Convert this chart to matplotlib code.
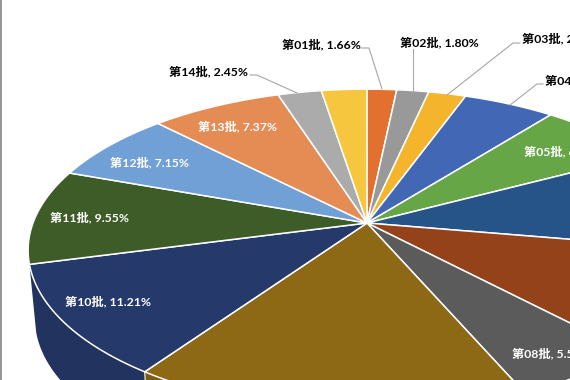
import numpy as np
import matplotlib
matplotlib.use('Agg')
from matplotlib import pyplot as plt

batches = ['第01批', '第02批', '第03批', '第04批', '第05批', '第06批', '第07批', '第08批',
           '第09批', '第10批', '第11批', '第12批', '第13批', '第14批', '第15批']
shares = [1.66, 1.80, 2.10, 5.14, 6.60, 10.40, 10.20, 5.57,
          16.25, 11.21, 9.55, 7.15, 7.37, 2.45, 2.55]
colors = ['#E2702F', '#999999', '#F4B42B', '#4268B5', '#66A647', '#265488', '#934219', '#5B5B5B',
          '#8D6815', '#253A6B', '#3E5C27', '#70A0D5', '#E58C55', '#ABABAB', '#F7C63F']

plt.rcParams['font.family'] = ['Lato', 'Noto Sans CJK SC']

CX, CY = 367, 223
RX, RY, PERSP = 334, 156.5, 0.169
DEPTH, SHRINK = 68, 0.98


def rim(theta):
    # theta in degrees, clockwise from the top, far side of the tilted disc is smaller
    t = np.radians(theta)
    s = 1 + PERSP * np.cos(t)
    return CX + RX * np.sin(t) / s, CY - RY * np.cos(t) / s


def label(i, x, y, color):
    ax.text(x, y, f'{batches[i]}, {shares[i]:.2f}%', color=color, fontsize=8.8, fontweight='bold',
            ha='left', va='center')


def leader(xs, ys):
    ax.plot(xs, ys, color='#A6A6A6', lw=0.8, zorder=4)


fig = plt.figure(figsize=(5.7, 3.8), dpi=100)
ax = fig.add_axes([0, 0, 1, 1])
ax.set_xlim(0, 570)
ax.set_ylim(380, 0)
ax.axis('off')

edges = np.concatenate([[0], np.cumsum(shares)]) / np.sum(shares) * 360

# side wall, only the slices at the front show it
for i in range(8, 10):
    x, y = rim(np.linspace(edges[i], edges[i + 1], 60))
    xb = CX + (x - CX) * SHRINK
    yb = y + DEPTH
    side = tuple(c * 0.88 for c in matplotlib.colors.to_rgb(colors[i]))
    ax.fill(np.r_[x, xb[::-1]], np.r_[y, yb[::-1]], color=side, lw=0, zorder=1)

x0, y0 = rim(edges[9])
ax.plot([x0, CX + (x0 - CX) * SHRINK], [y0, y0 + DEPTH], color='#E8E8D8', lw=0.9, zorder=1.5)

# top face
for i in range(len(shares)):
    x, y = rim(np.linspace(edges[i], edges[i + 1], 80))
    ax.fill(np.r_[CX, x], np.r_[CY, y], facecolor=colors[i], edgecolor='white', lw=1.1, zorder=2)

leader([361, 369, 382], [48, 48, 89])
leader([413, 413], [49, 92])
leader([520, 513, 447], [43, 43, 95])
leader([543, 537, 510], [84, 84, 105])
leader([250, 257, 297], [75, 75, 93])

label(0, 282, 44, 'black')
label(1, 400, 42, 'black')
label(2, 522, 38, 'black')
label(3, 545, 80, 'black')
label(4, 524, 151, 'white')
label(7, 512, 353, 'white')
label(9, 65, 301, 'white')
label(10, 50, 217, 'white')
label(11, 110, 162, 'white')
label(12, 198, 126, 'white')
label(13, 169, 71, 'black')

# grey border on the left of the screenshot
ax.axvline(0.5, color='#808080', lw=1.2, zorder=5)

fig.savefig('out.png', dpi=100)
plt.close(fig)
